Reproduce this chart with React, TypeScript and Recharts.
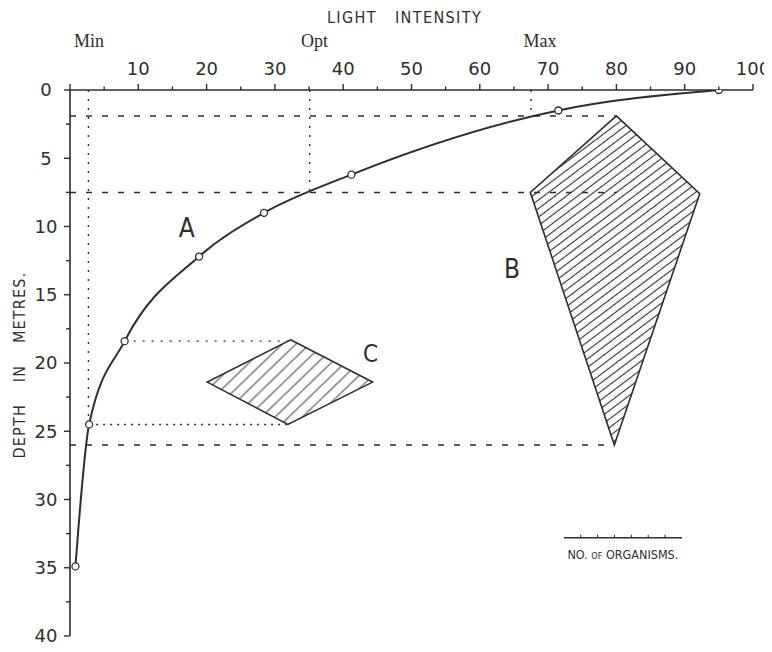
import React from 'react';
import {
  ComposedChart,
  XAxis,
  YAxis,
  Line,
  Scatter,
  ReferenceLine,
  ReferenceDot,
} from 'recharts';

const INK = '#2e2e2e';
const SANS = '"DejaVu Sans", "Liberation Sans", sans-serif';
const COND = '"DejaVu Sans Condensed", "DejaVu Sans", sans-serif';
const SERIF = '"Liberation Serif", "DejaVu Serif", serif';

// ---- axis ticks ----
const xTickValues = [0, 5, 10, 15, 20, 25, 30, 35, 40, 45, 50, 55, 60, 65, 70, 75, 80, 85, 90, 95, 100];
const xLabelledTicks = [10, 20, 30, 40, 50, 60, 70, 80, 90, 100];
const yTickValues = [0, 2.5, 5, 7.5, 10, 12.5, 15, 17.5, 20, 22.5, 25, 27.5, 30, 32.5, 35, 37.5, 40];
const yLabelledTicks = [0, 5, 10, 15, 20, 25, 30, 35, 40];

// ---- curve A : light intensity vs depth ----
const curveA = [
  { light: 0.8, depth: 34.9 },
  { light: 2.8, depth: 24.5 },
  { light: 8.0, depth: 18.4 },
  { light: 18.9, depth: 12.2 },
  { light: 28.4, depth: 9.0 },
  { light: 41.2, depth: 6.2 },
  { light: 71.5, depth: 1.5 },
  { light: 95, depth: 0 },
];

// ---- organism distributions (polygons) ----
const polygonB = [
  { light: 80.0, depth: 1.9 },
  { light: 92.2, depth: 7.6 },
  { light: 79.7, depth: 26.0 },
  { light: 67.4, depth: 7.5 },
];
const polygonC = [
  { light: 32.3, depth: 18.3 },
  { light: 44.3, depth: 21.4 },
  { light: 31.9, depth: 24.5 },
  { light: 20.1, depth: 21.4 },
];

// ---- guide lines ----
const dashedLevels = [
  { depth: 1.9, from: 0, to: 80.0 },
  { depth: 7.5, from: 0, to: 80.0 },
  { depth: 26.0, from: 0, to: 79.7 },
];
const markerLines = [
  { name: 'Min', light: 2.7, to: 24.5, labelLight: 2.8 },
  { name: 'Opt', light: 35.1, to: 7.5, labelLight: 35.8 },
  { name: 'Max', light: 67.5, to: 1.9, labelLight: 68.8 },
];
const markerLabelDepth = -3.6;
const dottedLevels = [
  { depth: 18.4, from: 8.0, to: 32.3, dash: '2 7' },
  { depth: 24.5, from: 2.8, to: 31.9, dash: '2 5' },
];
const seriesLabels = [
  { text: 'A', light: 17.1, depth: 10.1 },
  { text: 'B', light: 64.7, depth: 13.1 },
  { text: 'C', light: 44.0, depth: 19.3 },
];
const scaleBar = { from: 72.3, to: 89.6, depth: 32.8, divisions: 7 };

// ---- render helpers ----
const XTick = (props: any) => {
  const { x, y, payload } = props;
  const v = payload.value;
  const len = v % 10 === 0 ? 6 : 3.5;
  return (
    <g>
      <line x1={x} y1={y} x2={x} y2={y - len} stroke={INK} strokeWidth={1.4} />
      {xLabelledTicks.includes(v) && (
        <text x={x} y={y - 15} textAnchor="middle" fontFamily={SANS} fontSize={18} fill={INK}>
          {v}
        </text>
      )}
    </g>
  );
};

const YTick = (props: any) => {
  const { x, y, payload } = props;
  const v = payload.value;
  const len = v % 5 === 0 ? 6 : 4;
  return (
    <g>
      <line x1={x - len} y1={y} x2={x} y2={y} stroke={INK} strokeWidth={1.4} />
      {yLabelledTicks.includes(v) && (
        <text x={x - 24} y={y} dy="0.36em" textAnchor="middle" fontFamily={SANS} fontSize={18} fill={INK}>
          {v}
        </text>
      )}
    </g>
  );
};

const XTitle = (props: any) => {
  const vb = props.viewBox || { x: 0, y: 0, width: 0 };
  const cx = vb.x + vb.width / 2 - 7;
  return (
    <text
      x={cx}
      y={vb.y + 15}
      textAnchor="middle"
      fontFamily={COND}
      fontSize={16}
      fill={INK}
      letterSpacing={1.4}
      wordSpacing={12}
    >
      LIGHT INTENSITY
    </text>
  );
};

const YTitle = (props: any) => {
  const vb = props.viewBox || { x: 0, y: 0, height: 0 };
  const x = vb.x + 11;
  const y = vb.y + vb.height / 2 + 2;
  return (
    <text
      x={x}
      y={y}
      transform={`rotate(-90 ${x} ${y})`}
      textAnchor="middle"
      dominantBaseline="central"
      fontFamily={COND}
      fontSize={16}
      fill={INK}
      letterSpacing={1.2}
      wordSpacing={16}
    >
      DEPTH IN METRES.
    </text>
  );
};

const MarkText = (props: any) => {
  const vb = props.viewBox || { x: 0, y: 0, width: 0, height: 0 };
  const cx = vb.x + (vb.width || 0) / 2;
  const cy = vb.y + (vb.height || 0) / 2;
  return (
    <text
      x={cx}
      y={cy}
      dy="0.36em"
      textAnchor="middle"
      fontFamily={props.family}
      fontSize={props.size}
      fill={INK}
    >
      {props.text}
    </text>
  );
};

const HatchPolygon = (props: any) => {
  const { points, patternId, spacing, angle } = props;
  if (!points || !points.length) return null;
  const d = points.map((p: any, i: number) => `${i ? 'L' : 'M'}${p.x},${p.y}`).join(' ') + ' Z';
  return (
    <g>
      <defs>
        <pattern
          id={patternId}
          width={spacing * 4}
          height={spacing}
          patternUnits="userSpaceOnUse"
          patternTransform={`rotate(${-angle})`}
        >
          <line x1={0} y1={spacing / 2} x2={spacing * 4} y2={spacing / 2} stroke="#333" strokeWidth={1.15} />
        </pattern>
      </defs>
      <path d={d} fill={`url(#${patternId})`} stroke={INK} strokeWidth={1.6} strokeLinejoin="miter" />
    </g>
  );
};

const ScaleBarShape = (props: any) => {
  const { x1, y1, x2, divisions } = props;
  const ticks = [];
  for (let i = 1; i < divisions; i++) {
    const tx = x1 + ((x2 - x1) * i) / divisions;
    ticks.push(<line key={i} x1={tx} y1={y1} x2={tx} y2={y1 - 3} stroke={INK} strokeWidth={1} />);
  }
  return (
    <g>
      <line x1={x1} y1={y1} x2={x2} y2={y1} stroke={INK} strokeWidth={1.4} />
      {ticks}
      <text x={(x1 + x2) / 2} y={y1 + 21} textAnchor="middle" fontFamily={COND} fontSize={12.5} fill={INK}>
        NO. <tspan fontSize={9}>OF</tspan> ORGANISMS.
      </text>
    </g>
  );
};

const EmptyShape = () => <g />;

export default function App() {
  return (
    <ComposedChart width={764} height={644} margin={{ top: 0, right: 19, bottom: 16, left: 0 }}>
      <XAxis
        xAxisId={0}
        dataKey="light"
        type="number"
        orientation="top"
        domain={[0, 100]}
        ticks={xTickValues}
        interval={0}
        height={82}
        tickSize={0}
        tickMargin={0}
        tick={<XTick />}
        axisLine={{ stroke: INK, strokeWidth: 1.6 }}
        label={<XTitle />}
        allowDataOverflow
      />
      <YAxis
        yAxisId={0}
        dataKey="depth"
        type="number"
        domain={[0, 40]}
        reversed
        ticks={yTickValues}
        interval={0}
        width={62}
        tickSize={0}
        tickMargin={0}
        tick={<YTick />}
        axisLine={{ stroke: INK, strokeWidth: 1.6 }}
        label={<YTitle />}
        allowDataOverflow
      />

      <Scatter
        data={polygonB}
        line={<HatchPolygon patternId="hatchB" spacing={6.8} angle={37} />}
        lineType="joint"
        shape={<EmptyShape />}
        isAnimationActive={false}
      />
      <Scatter
        data={polygonC}
        line={<HatchPolygon patternId="hatchC" spacing={9.5} angle={44} />}
        lineType="joint"
        shape={<EmptyShape />}
        isAnimationActive={false}
      />

      {dashedLevels.map((d, i) => (
        <ReferenceLine
          key={`dash-${i}`}
          segment={[
            { x: d.from, y: d.depth },
            { x: d.to, y: d.depth },
          ]}
          stroke={INK}
          strokeWidth={1.5}
          strokeDasharray="6 10"
        />
      ))}
      {markerLines.map((m, i) => (
        <ReferenceLine
          key={`mark-${i}`}
          segment={[
            { x: m.light, y: 0 },
            { x: m.light, y: m.to },
          ]}
          stroke={INK}
          strokeWidth={1.4}
          strokeDasharray="2 7"
        />
      ))}
      {dottedLevels.map((d, i) => (
        <ReferenceLine
          key={`dot-${i}`}
          segment={[
            { x: d.from, y: d.depth },
            { x: d.to, y: d.depth },
          ]}
          stroke={INK}
          strokeWidth={1.4}
          strokeDasharray={d.dash}
        />
      ))}

      <ReferenceLine
        segment={[
          { x: scaleBar.from, y: scaleBar.depth },
          { x: scaleBar.to, y: scaleBar.depth },
        ]}
        shape={<ScaleBarShape divisions={scaleBar.divisions} />}
      />

      {markerLines.map((m, i) => (
        <ReferenceDot
          key={`mlabel-${i}`}
          x={m.labelLight}
          y={markerLabelDepth}
          r={1}
          fill="none"
          stroke="none"
          ifOverflow="visible"
          label={<MarkText text={m.name} size={18} family={SERIF} />}
        />
      ))}
      {seriesLabels.map((s, i) => (
        <ReferenceDot
          key={`slabel-${i}`}
          x={s.light}
          y={s.depth}
          r={1}
          fill="none"
          stroke="none"
          ifOverflow="visible"
          label={<MarkText text={s.text} size={s.text === 'C' ? 24 : 26} family={COND} />}
        />
      ))}

      <Line
        data={curveA}
        dataKey="depth"
        type="monotone"
        stroke={INK}
        strokeWidth={2}
        dot={{ r: 3.5, fill: '#fff', stroke: INK, strokeWidth: 1.3 }}
        activeDot={false}
        isAnimationActive={false}
      />
    </ComposedChart>
  );
}
